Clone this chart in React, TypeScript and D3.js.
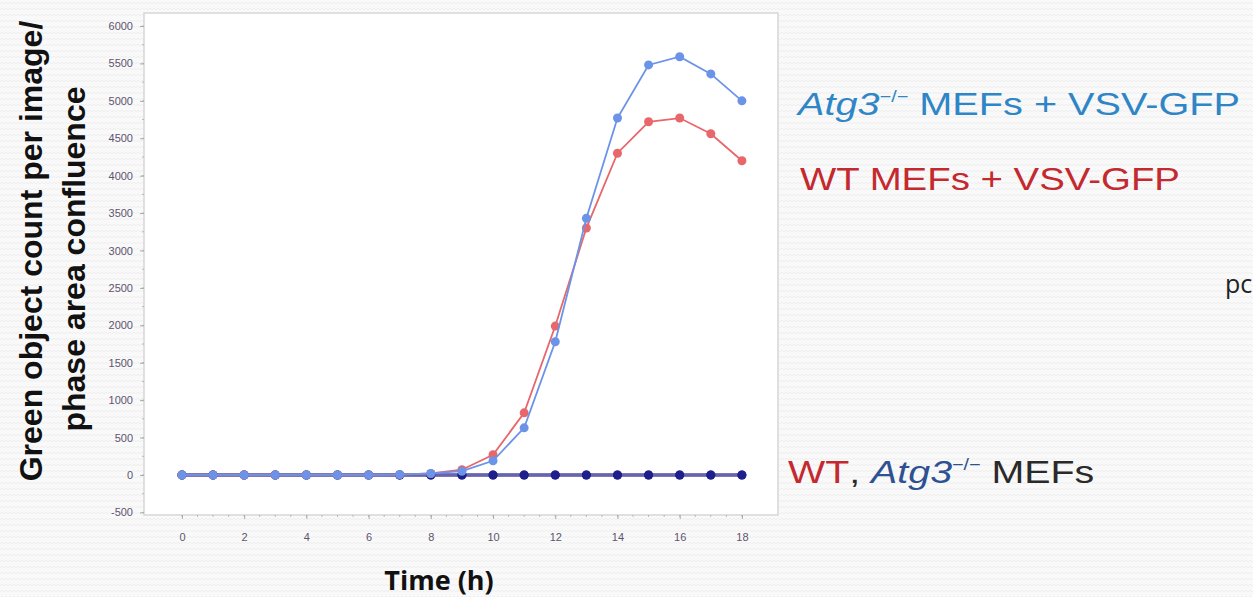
import React, { useEffect, useRef } from 'react';
import * as d3 from 'd3';

// hours post infection
const hours = [0, 1, 2, 3, 4, 5, 6, 7, 8, 9, 10, 11, 12, 13, 14, 15, 16, 17, 18];
// green object count per image / phase area confluence
const atg3Vsv = [0, 0, 0, 0, 0, 0, 0, 5, 20, 50, 190, 630, 1780, 3430, 4770, 5480, 5590, 5360, 5000];
const wtVsv = [0, 0, 0, 0, 0, 0, 0, 5, 20, 70, 270, 830, 1990, 3300, 4300, 4720, 4770, 4560, 4200];
const wtMock = [0, 0, 0, 0, 0, 0, 0, 0, 0, 0, 0, 0, 0, 0, 0, 0, 0, 0, 0];
const atg3Mock = [0, 0, 0, 0, 0, 0, 0, 0, 0, 0, 0, 0, 0, 0, 0, 0, 0, 0, 0];

const xTicks = [0, 2, 4, 6, 8, 10, 12, 14, 16, 18];
const yTicks = [-500, 0, 500, 1000, 1500, 2000, 2500, 3000, 3500, 4000, 4500, 5000, 5500, 6000];

const W = 1253, H = 597;
const frame = { left: 144, top: 13, right: 778, bottom: 515 };

export default function App() {
  const ref = useRef<SVGSVGElement>(null);

  useEffect(() => {
    const svg = d3.select(ref.current).select('.plot');
    svg.selectAll('*').remove();

    const x = d3.scaleLinear().domain([-1.22, 19.16]).range([frame.left, frame.right]);
    const y = d3.scaleLinear().domain([-535, 6174]).range([frame.bottom, frame.top]);

    svg.append('rect')
      .attr('x', frame.left).attr('y', frame.top)
      .attr('width', frame.right - frame.left).attr('height', frame.bottom - frame.top)
      .attr('fill', '#ffffff').attr('stroke', '#d6d6d6').attr('stroke-width', 1.5);

    // minor ticks
    const g = svg.append('g');
    g.selectAll('.ymin').data(d3.range(-500, 6001, 250)).join('line')
      .attr('x1', frame.left - 2).attr('x2', frame.left)
      .attr('y1', d => y(d)).attr('y2', d => y(d))
      .attr('stroke', '#b8b8b8');
    g.selectAll('.xmin').data(d3.range(0, 18.01, 0.5)).join('line')
      .attr('y1', frame.bottom).attr('y2', frame.bottom + 2)
      .attr('x1', d => x(d)).attr('x2', d => x(d))
      .attr('stroke', '#b8b8b8');

    const yAxis = svg.append('g').attr('transform', `translate(${frame.left},0)`)
      .call(d3.axisLeft(y).tickValues(yTicks).tickFormat(d => String(d)).tickSize(4).tickPadding(7));
    const xAxis = svg.append('g').attr('transform', `translate(0,${frame.bottom})`)
      .call(d3.axisBottom(x).tickValues(xTicks).tickFormat(d => String(d)).tickSize(4).tickPadding(14));
    [yAxis, xAxis].forEach(a => {
      a.select('.domain').remove();
      a.selectAll('line').attr('stroke', '#aaaaaa');
      a.selectAll('text').attr('fill', '#5e5470').attr('font-size', 11)
        .attr('font-family', 'Liberation Sans, Arial, sans-serif');
    });

    const line = (vals: number[]) => d3.line<number>()
      .x((_, i) => x(hours[i])).y(d => y(d))(vals);

    // uninfected controls
    [wtMock, atg3Mock].forEach(vals => {
      svg.append('path').attr('d', line(vals)).attr('fill', 'none')
        .attr('stroke', '#5f5aa8').attr('stroke-opacity', 0.75).attr('stroke-width', 3.5);
    });
    [wtMock, atg3Mock].forEach(vals => {
      svg.append('g').selectAll('circle').data(vals).join('circle')
        .attr('cx', (_, i) => x(hours[i])).attr('cy', d => y(d)).attr('r', 4.5)
        .attr('fill', '#1e1e8c');
    });

    // infected
    const series = [
      { vals: wtVsv, color: '#e8676b' },
      { vals: atg3Vsv, color: '#6b93e8' },
    ];
    series.forEach(s => {
      svg.append('path').attr('d', line(s.vals)).attr('fill', 'none')
        .attr('stroke', s.color).attr('stroke-width', 1.8);
      svg.append('g').selectAll('circle').data(s.vals).join('circle')
        .attr('cx', (_, i) => x(hours[i])).attr('cy', d => y(d)).attr('r', 4.5)
        .attr('fill', s.color);
    });
  }, []);

  const sans = 'Liberation Sans, Arial, sans-serif';
  return (
    <svg ref={ref} width={W} height={H}
      style={{ position: 'absolute', left: 0, top: 0, display: 'block' }}>
      <defs>
        <pattern id="zz" width={8} height={6} patternUnits="userSpaceOnUse">
          <rect width={8} height={6} fill="#f9f9f9" />
          <path d="M0 4 L2 2 L4 4 L6 2 L8 4" fill="none" stroke="#eeeeee" strokeWidth={1} />
        </pattern>
      </defs>
      <rect width={W} height={H} fill="url(#zz)" />
      <g className="plot" />

      {/* y axis title, two lines */}
      <text transform="translate(42,251) rotate(-90)" textAnchor="middle"
        fontFamily={sans} fontWeight="bold" fontSize={32} fill="#111">
        Green object count per image/
      </text>
      <text transform="translate(85,259) rotate(-90)" textAnchor="middle"
        fontFamily={sans} fontWeight="bold" fontSize={32} fill="#111">
        phase area confluence
      </text>

      <text x={439} y={590} textAnchor="middle" fontFamily="Open Sans, sans-serif"
        fontWeight="bold" fontSize={27} fill="#111">Time (h)</text>

      {/* series labels */}
      <g transform="translate(798,115) scale(1.24,1)">
        <text fontFamily={sans} fontSize={32} fill="#2f86c6">
          <tspan fontStyle="italic">Atg3</tspan>
          <tspan fontSize={16} dy={-13}>−/−</tspan>
          <tspan dy={13}> MEFs + VSV-GFP</tspan>
        </text>
      </g>
      <g transform="translate(800,190) scale(1.2,1)">
        <text fontFamily={sans} fontSize={32} fill="#c4292f">WT MEFs + VSV-GFP</text>
      </g>
      <g transform="translate(788,483) scale(1.23,1)">
        <text fontFamily={sans} fontSize={32} fill="#2a2a2a">
          <tspan fill="#c4292f">WT</tspan>
          <tspan>, </tspan>
          <tspan fontStyle="italic" fill="#2d5192">Atg3</tspan>
          <tspan fontSize={16} dy={-13} fill="#2d5192">−/−</tspan>
          <tspan dy={13}> MEFs</tspan>
        </text>
      </g>

      <text x={1225} y={293} fontFamily="Open Sans, sans-serif" fontSize={25} fill="#222">pc</text>
    </svg>
  );
}
